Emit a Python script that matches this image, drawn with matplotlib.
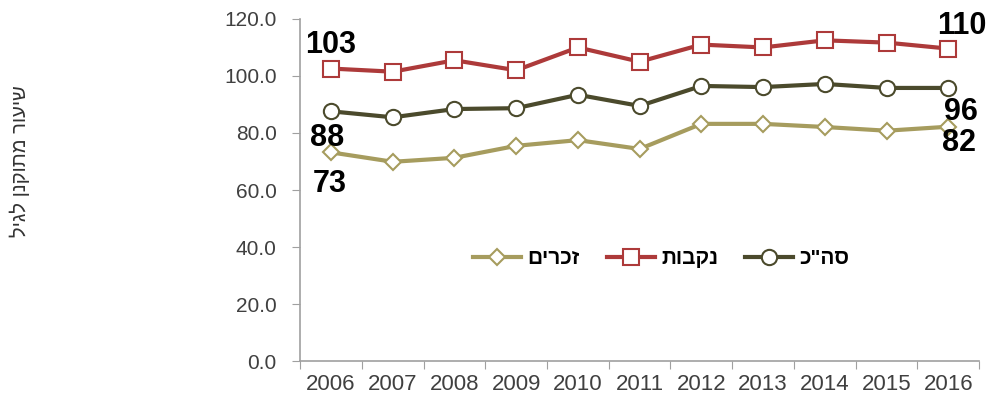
import matplotlib.pyplot as plt
from matplotlib.ticker import FixedLocator, NullFormatter

plt.rcParams['font.family'] = ['Liberation Sans', 'DejaVu Sans']

# data
years = ['2006', '2007', '2008', '2009', '2010', '2011', '2012', '2013', '2014', '2015', '2016']
females = [102.6, 101.5, 105.5, 102.0, 110.0, 105.0, 111.0, 110.0, 112.5, 111.7, 109.6]
total = [87.6, 85.5, 88.4, 88.7, 93.4, 89.5, 96.5, 96.1, 97.2, 95.8, 95.8]
males = [73.2, 69.9, 71.3, 75.5, 77.5, 74.4, 83.2, 83.2, 82.1, 80.8, 82.2]

label_males = 'זכרים'
label_females = 'נקבות'
label_total = 'סה"כ'
y_title = 'שיעור מתוקנן לגיל'


def rtl(s):
    # matplotlib has no bidi support, so flip Hebrew into visual order
    return s[::-1]


def lab(v):
    return '%d' % int(v + 0.5)


c_fem = '#ad3a3a'
c_tot = '#4b4a2c'
c_mal = '#a69c5e'

fig = plt.figure(figsize=(9.94, 4.03), dpi=100)
ax = fig.add_axes([0.302, 0.104, 0.683, 0.849])

x = list(range(len(years)))
ax.plot(x, males, color=c_mal, lw=3, marker='D', ms=8, mfc='white',
        mec=c_mal, mew=1.5, label=rtl(label_males), zorder=3)
ax.plot(x, females, color=c_fem, lw=3, marker='s', ms=11, mfc='white',
        mec=c_fem, mew=1.5, label=rtl(label_females), zorder=3)
ax.plot(x, total, color=c_tot, lw=3, marker='o', ms=11, mfc='white',
        mec=c_tot, mew=1.5, label=rtl(label_total), zorder=3)

ax.set_xlim(-0.5, len(years) - 0.5)
ax.set_ylim(0, 120)
ax.set_yticks([0, 20, 40, 60, 80, 100, 120])
ax.set_yticklabels(['%.1f' % v for v in [0, 20, 40, 60, 80, 100, 120]])

# ticks between categories, labels at the centres
ax.xaxis.set_major_locator(FixedLocator([i - 0.5 for i in range(len(years) + 1)]))
ax.xaxis.set_major_formatter(NullFormatter())
ax.xaxis.set_minor_locator(FixedLocator(x))
ax.set_xticklabels(years, minor=True)
ax.tick_params(axis='x', which='minor', length=0, pad=9, labelsize=16)
ax.tick_params(axis='x', which='major', length=6, color='#a0a0a0')
ax.tick_params(axis='y', length=6, color='#a0a0a0', pad=11, labelsize=15)
ax.tick_params(axis='both', which='both', labelcolor='#404040')

for s in ['top', 'right']:
    ax.spines[s].set_visible(False)
for s in ['left', 'bottom']:
    ax.spines[s].set_color('#a0a0a0')
    ax.spines[s].set_linewidth(1.2)

# value labels at the first and last year
bold = dict(fontsize=22, fontweight='bold', ha='center', va='center', color='black')
ax.annotate(lab(females[0]), (0, females[0]), xytext=(0, 17), textcoords='offset points', **bold)
ax.annotate(lab(total[0]), (0, total[0]), xytext=(-3, -19), textcoords='offset points', **bold)
ax.annotate(lab(males[0]), (0, males[0]), xytext=(-1, -23), textcoords='offset points', **bold)
ax.annotate(lab(females[-1]), (10, females[-1]), xytext=(10, 16), textcoords='offset points', **bold)
ax.annotate(lab(total[-1]), (10, total[-1]), xytext=(9, -17), textcoords='offset points', **bold)
ax.annotate(lab(males[-1]), (10, males[-1]), xytext=(8, -12), textcoords='offset points', **bold)

ax.legend(loc='center', bbox_to_anchor=(0.532, 0.30), ncol=3, frameon=False,
          prop={'size': 15, 'weight': 'bold'}, handlelength=2.3,
          handletextpad=0.3, columnspacing=1.3)

fig.text(20 / 994, 1 - 161 / 403, rtl(y_title), rotation=90, ha='center',
         va='center', fontsize=14.5, color='#333333')

fig.savefig('out.png', dpi=100)
